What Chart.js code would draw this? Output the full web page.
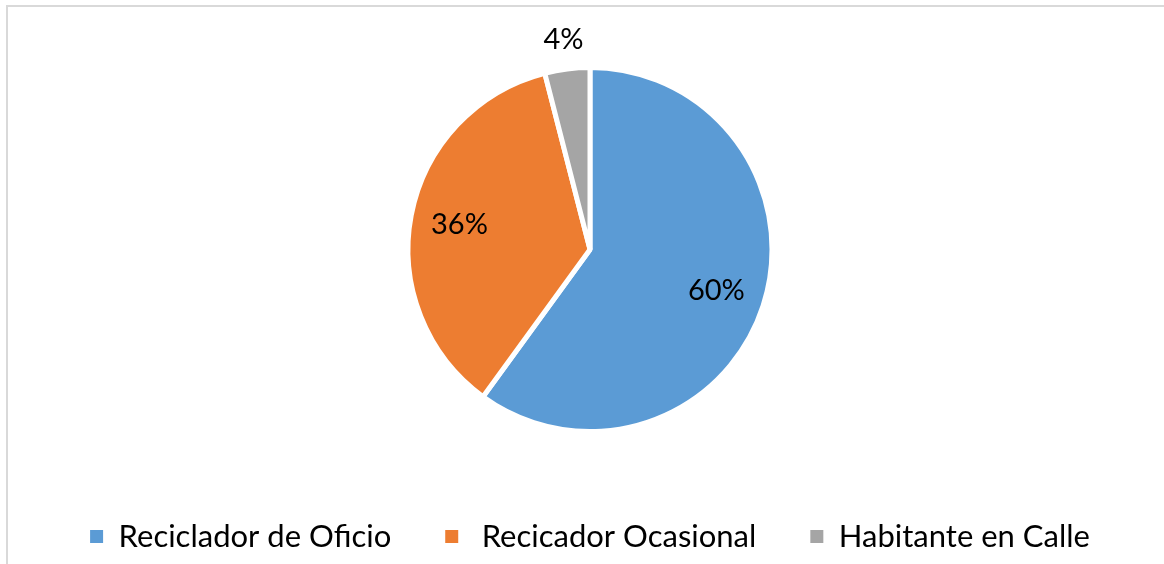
<!DOCTYPE html>
<html>
<head>
<meta charset="utf-8">
<script src="https://cdn.jsdelivr.net/npm/chart.js@4"></script>
<style>
  html, body { margin: 0; padding: 0; background: #fff; overflow: hidden; }
  .frame {
    position: absolute; left: 6px; top: 5px;
    width: 1170px; height: 570px;
    border-left: 2px solid #d9d9d9; border-top: 2px solid #d9d9d9;
  }
  .wrap { position: absolute; left: 0; top: 0; width: 1164px; height: 564px; }
</style>
</head>
<body>
<div class="frame"></div>
<div class="wrap"><canvas id="myChart"></canvas></div>
<script>
// data
const categories = ["Reciclador de Oficio", " Recicador Ocasional", "Habitante en Calle"];
const values = [60, 36, 4];
const colors = ["#5b9bd5", "#ed7d31", "#a5a5a5"];

// percentage labels drawn on the slices
const pctLabels = {
  id: "pctLabels",
  afterDatasetsDraw(chart) {
    const ctx = chart.ctx;
    const meta = chart.getDatasetMeta(0);
    const total = values.reduce((a, b) => a + b, 0);
    ctx.save();
    ctx.font = "29px Lato, 'Open Sans', sans-serif";
    ctx.fillStyle = "#000";
    ctx.textAlign = "center";
    ctx.textBaseline = "middle";
    meta.data.forEach((arc, i) => {
      const p = arc.getProps(["x", "y", "startAngle", "endAngle", "outerRadius"], true);
      const mid = (p.startAngle + p.endAngle) / 2;
      const share = values[i] / total;
      const r = share < 0.08 ? p.outerRadius * 1.16 : p.outerRadius * 0.73;
      const txt = Math.round(share * 100) + "%";
      ctx.fillText(txt, p.x + Math.cos(mid) * r, p.y + Math.sin(mid) * r);
    });
    ctx.restore();
  }
};

const config = {
  type: "pie",
  data: {
    labels: categories,
    datasets: [{
      data: values,
      backgroundColor: colors,
      borderColor: "#ffffff",
      borderWidth: 5
    }]
  },
  options: {
    responsive: true,
    maintainAspectRatio: false,
    animation: false,
    radius: 182,
    layout: { padding: { left: 16, top: 32, right: 0, bottom: 2 } },
    plugins: {
      tooltip: { enabled: false },
      legend: {
        position: "bottom",
        labels: {
          boxWidth: 13,
          boxHeight: 13,
          padding: 54,
          color: "#000",
          font: { family: "Lato, 'Open Sans', sans-serif", size: 31 },
          generateLabels(chart) {
            // no white outline round the legend boxes
            const items = Chart.controllers.pie.overrides.plugins.legend.labels.generateLabels(chart);
            return items.map((it) => Object.assign(it, { lineWidth: 0 }));
          }
        }
      }
    }
  },
  plugins: [pctLabels]
};

const context = document.getElementById("myChart").getContext("2d");
const chart = new Chart(context, config);
</script>
</body>
</html>
